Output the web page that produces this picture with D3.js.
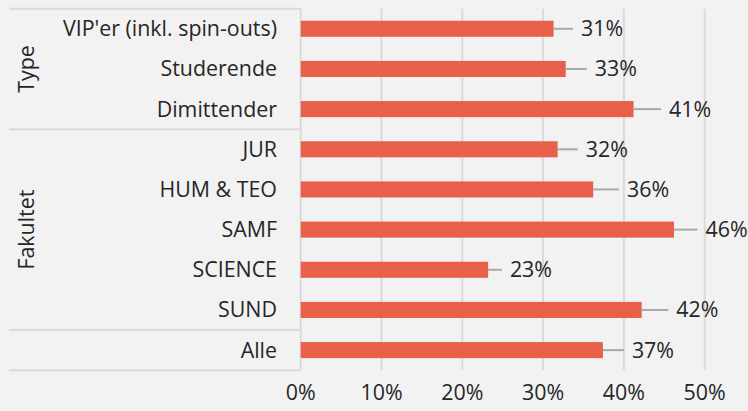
<!DOCTYPE html>
<html>
<head>
<meta charset="utf-8">
<script src="https://cdn.jsdelivr.net/npm/d3@7"></script>
<style>
  body { margin: 0; background: #f2f2f2; }
  svg { display: block; font-family: "Open Sans", sans-serif; }
</style>
</head>
<body>
<div id="chart"></div>
<script>
// chart data
var categories = ["VIP'er (inkl. spin-outs)", "Studerende", "Dimittender", "JUR", "HUM & TEO", "SAMF", "SCIENCE", "SUND", "Alle"];
var values = [31.3, 32.8, 41.2, 31.8, 36.2, 46.2, 23.2, 42.2, 37.4];
var upper = [33.7, 35.4, 44.6, 34.3, 39.4, 49.1, 24.9, 45.5, 40.0];
var groups = [
    {name: "Type", first: 0, last: 2},
    {name: "Fakultet", first: 3, last: 7},
    {name: "", first: 8, last: 8}
];
var xTicks = [0, 10, 20, 30, 40, 50];

var width = 748, height = 411;
var fontSize = "21.4px";
var textColor = "#262626";
var svg = d3.select("#chart").append("svg").attr("width", width).attr("height", height);

var x = d3.scaleLinear().domain([0, 50]).range([300.7, 704.7]);
var y = d3.scaleBand().domain(categories).range([8.7, 370.2]).paddingInner(0.6).paddingOuter(0.3);
var step = y.step();
var top0 = y.range()[0];

// grid
svg.append("g").selectAll("line")
    .data(xTicks)
    .enter().append("line")
    .attr("x1", d => x(d)).attr("x2", d => x(d))
    .attr("y1", top0).attr("y2", y.range()[1])
    .style("stroke", "#dadada").style("stroke-width", 2);

// group separators on the left
var bounds = [0];
groups.forEach(g => bounds.push(g.last + 1));
svg.append("g").selectAll("line")
    .data(bounds)
    .enter().append("line")
    .attr("x1", 9).attr("x2", x(0))
    .attr("y1", d => top0 + d * step).attr("y2", d => top0 + d * step)
    .style("stroke", "#dadada").style("stroke-width", 2);

// bars
svg.append("g").selectAll("rect")
    .data(categories)
    .enter().append("rect")
    .attr("x", x(0))
    .attr("y", d => y(d))
    .attr("width", (d, i) => x(values[i]) - x(0))
    .attr("height", y.bandwidth())
    .style("fill", "#e8604a");

// error lines
svg.append("g").selectAll("line")
    .data(categories)
    .enter().append("line")
    .attr("x1", (d, i) => x(values[i])).attr("x2", (d, i) => x(upper[i]))
    .attr("y1", d => y(d) + y.bandwidth() / 2).attr("y2", d => y(d) + y.bandwidth() / 2)
    .style("stroke", "#a8a8a8").style("stroke-width", 2);

// value labels
svg.append("g").selectAll("text")
    .data(categories)
    .enter().append("text")
    .attr("x", (d, i) => x(upper[i]) + 8)
    .attr("y", d => y(d) + y.bandwidth() / 2)
    .attr("dy", "0.35em")
    .style("font-size", fontSize).style("fill", textColor)
    .text((d, i) => Math.round(values[i]) + "%");

// category labels
svg.append("g").selectAll("text")
    .data(categories)
    .enter().append("text")
    .attr("x", 277)
    .attr("y", d => y(d) + y.bandwidth() / 2)
    .attr("dy", "0.35em")
    .attr("text-anchor", "end")
    .style("font-size", fontSize).style("fill", textColor)
    .text(d => d);

// group labels
svg.append("g").selectAll("text")
    .data(groups.filter(g => g.name))
    .enter().append("text")
    .attr("transform", g => "translate(26," + (top0 + (g.first + g.last + 1) / 2 * step) + ") rotate(-90)")
    .attr("dy", "0.35em")
    .attr("text-anchor", "middle")
    .style("font-size", fontSize).style("fill", textColor)
    .text(g => g.name);

// x axis labels
svg.append("g").selectAll("text")
    .data(xTicks)
    .enter().append("text")
    .attr("x", d => x(d))
    .attr("y", 393)
    .attr("dy", "0.35em")
    .attr("text-anchor", "middle")
    .style("font-size", fontSize).style("fill", textColor)
    .text(d => d + "%");
</script>
</body>
</html>
